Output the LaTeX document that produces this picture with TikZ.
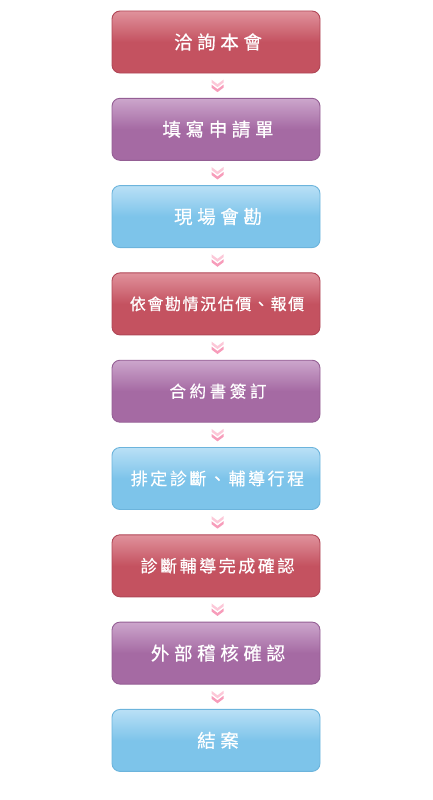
\documentclass[tikz,border=0pt]{standalone}
\usepackage{fontspec}
\newfontfamily\cjk[FakeBold=0.5]{Noto Sans CJK TC}
\usetikzlibrary{positioning,calc}
\definecolor{stepred}{RGB}{196,82,96}
\definecolor{stepredtop}{RGB}{224,146,156}
\definecolor{stepredline}{RGB}{176,70,86}
\definecolor{steppurple}{RGB}{165,106,163}
\definecolor{steppurpletop}{RGB}{204,166,204}
\definecolor{steppurpleline}{RGB}{148,94,148}
\definecolor{stepblue}{RGB}{125,196,234}
\definecolor{stepbluetop}{RGB}{186,224,246}
\definecolor{stepblueline}{RGB}{108,180,220}
\definecolor{chevlight}{RGB}{252,200,216}
\definecolor{chevdark}{RGB}{247,156,186}

\begin{document}
\begin{tikzpicture}[x=1pt,y=1pt,node distance=24.4pt]
\tikzset{
  box/.style={draw,rounded corners=8pt,minimum width=208pt,minimum height=62pt,inner sep=0pt,text=white,line width=0.9pt},
  redbox/.style={box,draw=stepredline,top color=stepredtop,bottom color=stepred,middle color=stepred},
  purplebox/.style={box,draw=steppurpleline,top color=steppurpletop,bottom color=steppurple,middle color=steppurple},
  bluebox/.style={box,draw=stepblueline,top color=stepbluetop,bottom color=stepblue,middle color=stepblue},
  txt/.style 2 args={font=\cjk\fontsize{#1}{#1}\selectfont\addfontfeatures{LetterSpace=#2}},
  chevron/.pic={
    \fill[chevlight] (-6,6) -- (0,1.5) -- (6,6) -- (6,3) -- (0,-1.5) -- (-6,3) -- cycle;
    \fill[chevdark] (-6,1) -- (0,-3.5) -- (6,1) -- (6,-2) -- (0,-6.5) -- (-6,-2) -- cycle;
  }
}
\useasboundingbox (0,0) rectangle (433,-800);
\node(consult)[redbox,txt={18.5}{25}] at (216,-42) {\hspace{4pt}洽詢本會};
\node(apply)[purplebox,txt={18.5}{25},below=of consult]{\hspace{4pt}填寫申請單};
\node(survey)[bluebox,txt={18.5}{25},below=of apply]{\hspace{4pt}現場會勘};
\node(quote)[redbox,txt={16}{10},below=of survey]{\hspace{2pt}依會勘情況估價、報價};
\node(contract)[purplebox,txt={16.5}{22},below=of quote]{\hspace{4pt}合約書簽訂};
\node(schedule)[bluebox,txt={17}{15},below=of contract]{\hspace{3pt}排定診斷、輔導行程};
\node(confirm)[redbox,txt={17}{15},below=of schedule]{\hspace{3pt}診斷輔導完成確認};
\node(audit)[purplebox,txt={18.5}{25},below=of confirm]{\hspace{4pt}外部稽核確認};
\node(close)[bluebox,txt={18.5}{25},below=of audit]{\hspace{4pt}結案};
% chevrons between the steps
\foreach \a/\b in {consult/apply,apply/survey,survey/quote,quote/contract,contract/schedule,schedule/confirm,confirm/audit,audit/close}
  \path ($(\a.south)!.5!(\b.north)$) ++(1.5,0) pic{chevron};
\end{tikzpicture}
\end{document}
